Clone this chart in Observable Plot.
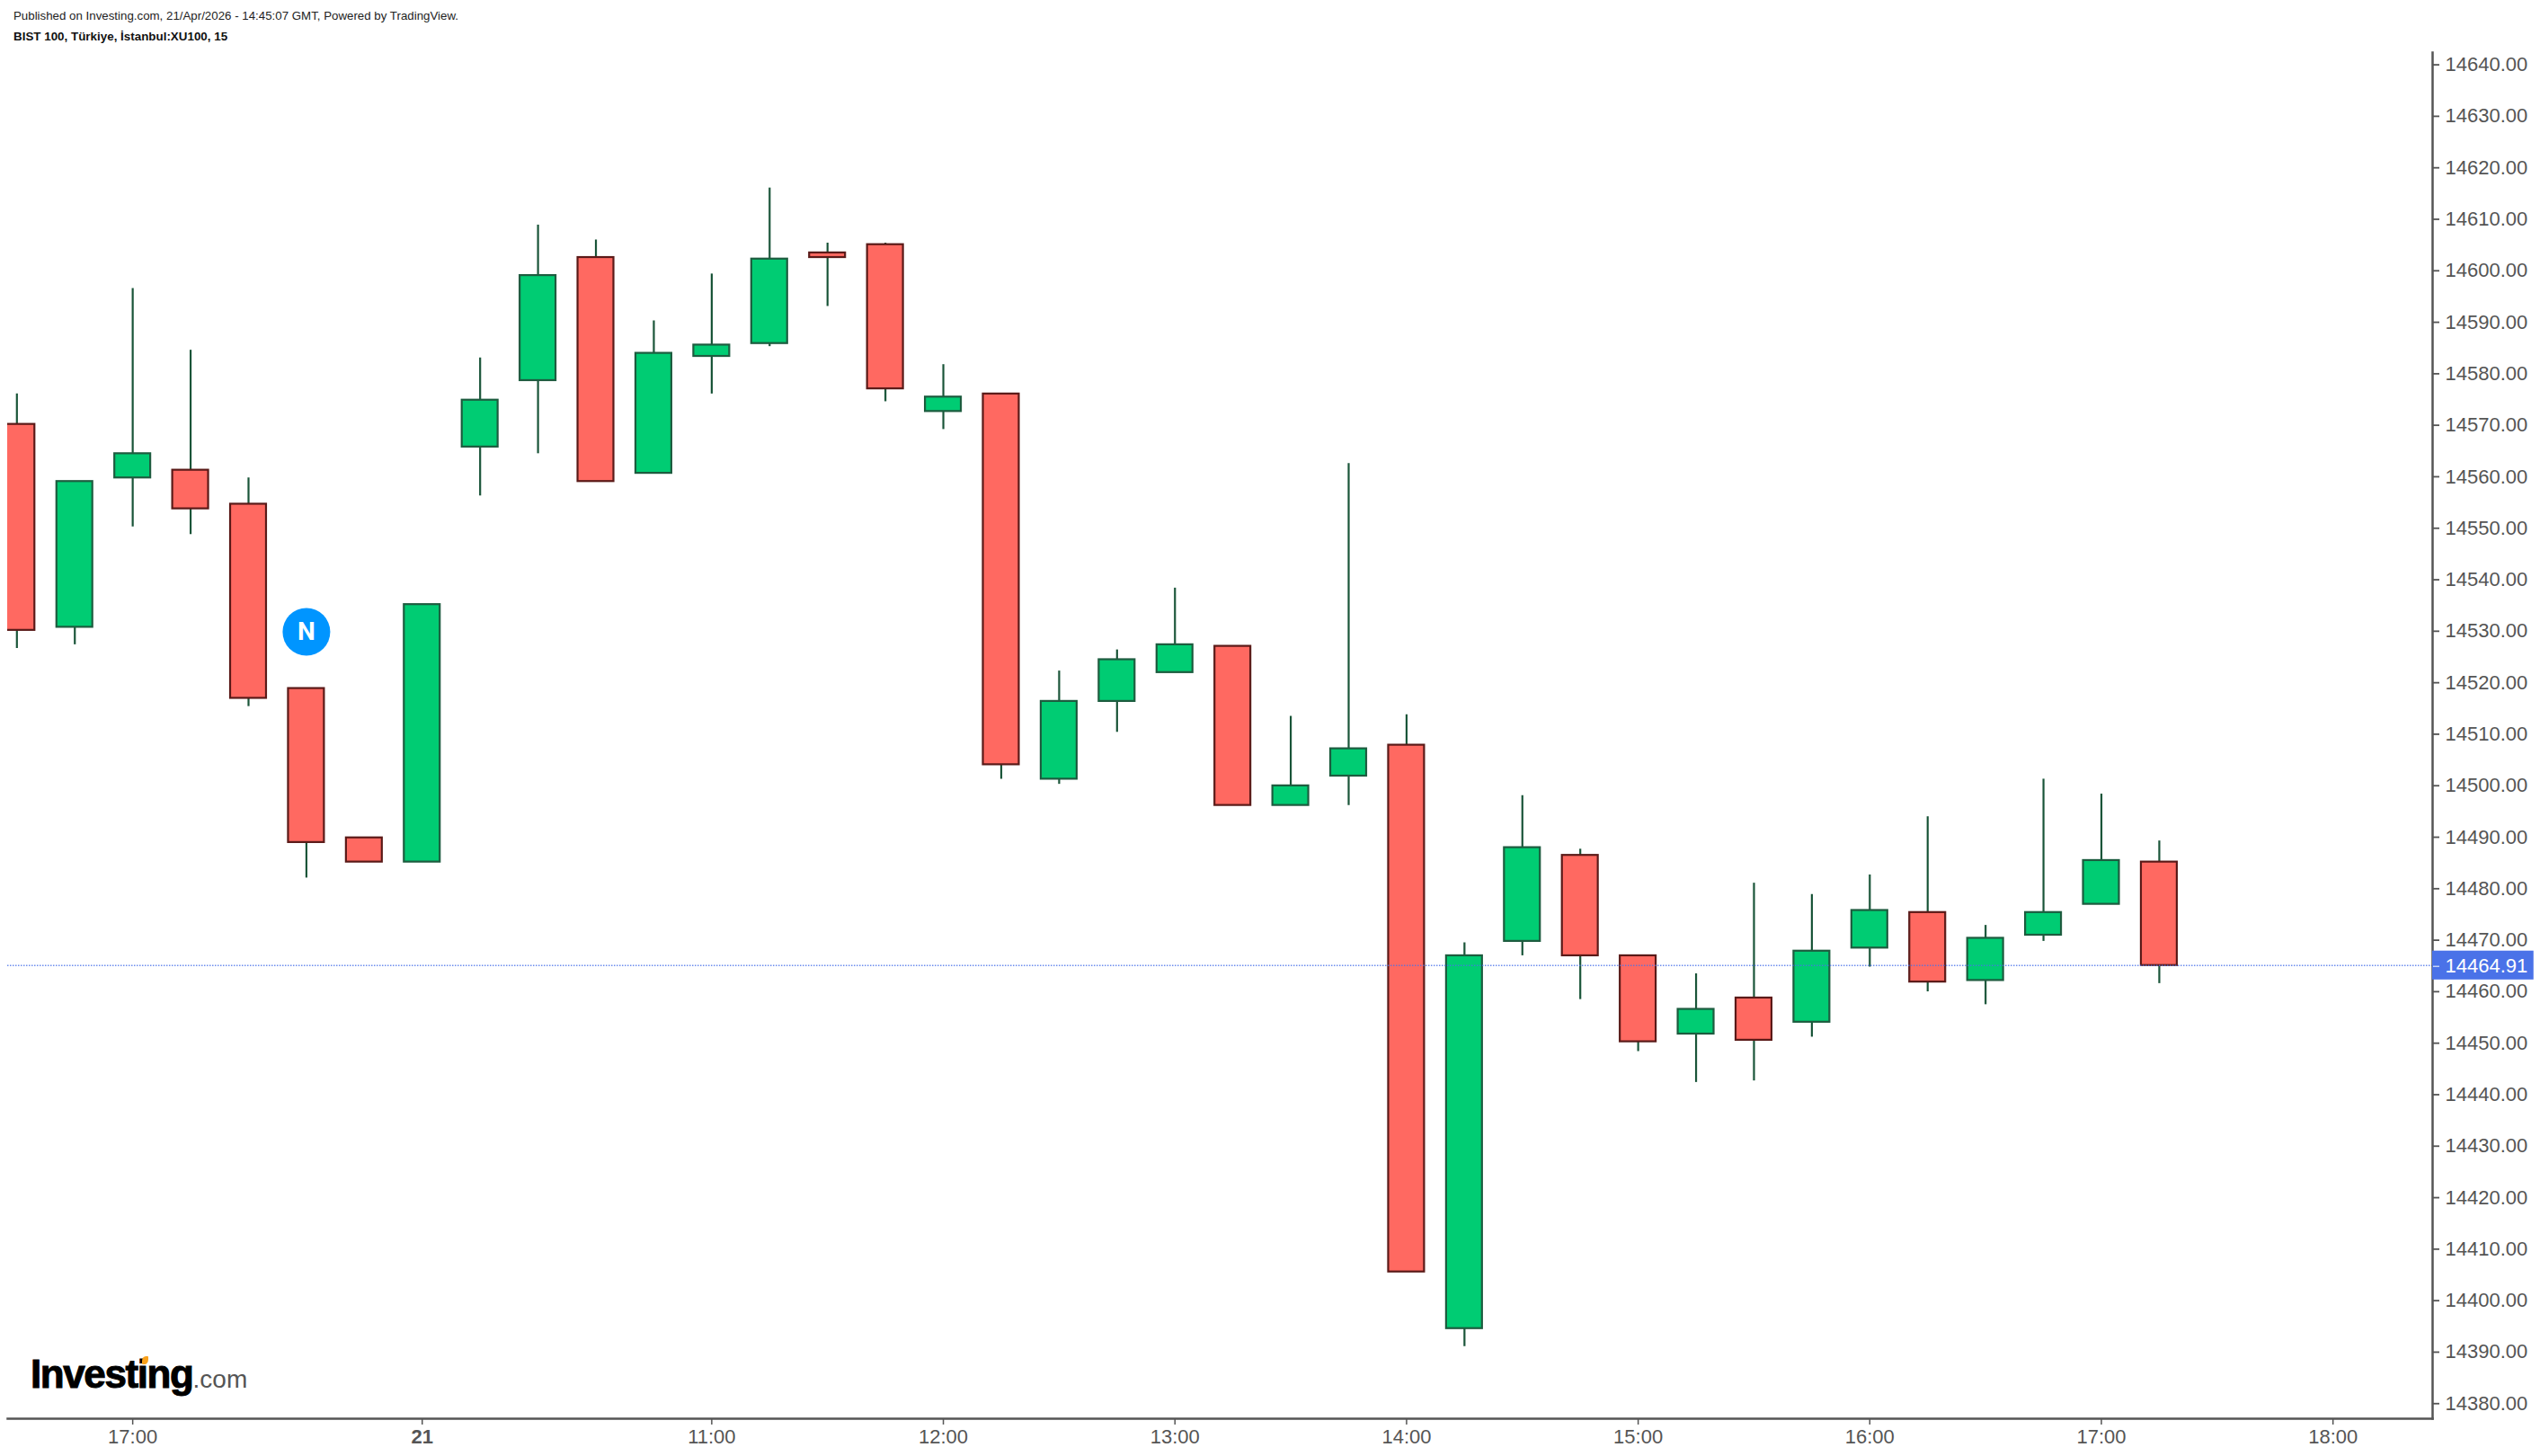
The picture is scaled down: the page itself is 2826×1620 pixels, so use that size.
<!DOCTYPE html>
<html>
<head>
<meta charset="utf-8">
<script src="https://cdn.jsdelivr.net/npm/d3@7"></script>
<script src="https://cdn.jsdelivr.net/npm/@observablehq/plot@0.6"></script>
<style>
html,body{margin:0;padding:0;background:#fff;overflow:hidden}
#wrap{position:relative;width:2826px;height:1620px}
#wrap svg{display:block;position:absolute;left:0;top:0}
.hd{position:absolute;left:15px;font-family:"Liberation Sans",Arial,sans-serif;color:#111;white-space:nowrap;z-index:2}
#pub{top:10px;font-size:13.3px;color:#222}
#sym{top:33px;font-size:13.4px;font-weight:bold}
#logo{position:absolute;left:34px;top:1498px;font-family:"Liberation Sans",Arial,sans-serif;white-space:nowrap;line-height:62px;z-index:2}
#logo b{font-size:44px;letter-spacing:-1.4px;color:#000;-webkit-text-stroke:1px #000}
#logo span{font-size:28px;color:#555;letter-spacing:0}
#logo i{position:absolute;left:124px;top:11px;width:7px;height:9px;background:#f9a11b;border-radius:60% 10% 60% 10%}
</style>
</head>
<body>
<div id="wrap">
<div class="hd" id="pub">Published on Investing.com, 21/Apr/2026 - 14:45:07 GMT, Powered by TradingView.</div>
<div class="hd" id="sym">BIST 100, Türkiye, İstanbul:XU100, 15</div>
<div id="logo"><b>Investing</b><span>.com</span><i></i></div>
</div>
<script>
const open_  = [14570.0,14530.6,14559.6,14561.1,14554.5,14518.7,14489.7,14485.0,14565.6,14578.5,14602.4,14560.5,14583.2,14585.7,14603.3,14604.9,14572.5,14575.9,14501.1,14516.2,14521.8,14526.9,14496.0,14501.7,14507.7,14394.4,14469.6,14486.3,14466.8,14451.6,14458.6,14453.9,14468.3,14475.2,14462.0,14470.8,14476.8,14485.0];
const close_ = [14530.0,14558.9,14564.3,14553.6,14516.8,14488.8,14485.0,14535.0,14574.7,14598.9,14558.9,14583.8,14585.4,14602.1,14602.4,14576.9,14575.3,14503.9,14516.2,14524.3,14527.2,14496.0,14499.8,14507.0,14405.4,14466.8,14487.8,14466.8,14450.1,14456.4,14450.4,14467.7,14475.6,14461.7,14470.2,14475.2,14485.3,14464.91];
const high_  = [14575.9,14558.9,14596.4,14584.4,14559.6,14518.7,14489.7,14535.0,14582.9,14608.7,14605.8,14590.1,14599.2,14615.9,14605.2,14605.2,14581.6,14575.9,14522.1,14526.2,14538.2,14526.9,14513.3,14562.4,14513.6,14469.3,14497.9,14487.5,14466.8,14463.3,14480.9,14478.7,14482.5,14493.8,14472.7,14501.1,14498.2,14489.1];
const low_   = [14526.5,14527.2,14550.1,14548.6,14515.2,14481.9,14485.0,14485.0,14556.1,14564.3,14558.9,14560.5,14575.9,14585.1,14592.9,14574.4,14569.0,14501.1,14500.1,14510.2,14521.8,14496.0,14496.0,14496.0,14405.4,14390.9,14466.8,14458.3,14448.2,14442.2,14442.5,14451.0,14464.6,14459.8,14457.3,14469.6,14476.8,14461.4];

const tickIdx    = [2,12,16,20,24,28,32,36,40];
const tickLabels = ["17:00","11:00","12:00","13:00","14:00","15:00","16:00","17:00","18:00"];
const dayIdx     = [7];
const dayLabels  = ["21"];
const priceTicks = d3.range(14380,14641,10);
const lastPrice  = 14464.91;
const newsMarker = [{i:5,v:14529.7,label:"N"}];

const bars = open_.map((o,i)=>({i,o,c:close_[i],h:high_[i],l:low_[i],up:close_[i]>=o}));

const FONT = '"Liberation Sans",Arial,sans-serif';
const INK = "#555";
const halfBody = 0.31;
const xLo = -0.16, xHi = 41.72, xTag = 43.47;

const chart = Plot.plot({
  width: 2826, height: 1620,
  marginTop: 58, marginBottom: 42, marginLeft: 8, marginRight: 120,
  style: {background:"#fff", fontFamily: FONT, fontSize:"22px"},
  x: {type:"linear", domain:[xLo,xHi]},
  y: {type:"linear", domain:[14376.9,14642.2]},
  marks: [
    Plot.ruleX(bars,{x:"i",y1:"l",y2:"h",stroke:"#1a5539",strokeWidth:2.2,clip:true}),
    Plot.rect(bars,{x1:d=>d.i-halfBody,x2:d=>d.i+halfBody,y1:"o",y2:"c",
      fill:d=>d.up?"#00cc73":"#ff6961",stroke:d=>d.up?"#1d5c3f":"#5a1a18",strokeWidth:2.2,clip:true}),
    Plot.ruleY([lastPrice],{stroke:"#4a72e8",strokeOpacity:0.8,strokeWidth:1.5,strokeDasharray:"1.5,1.5"}),
    Plot.dot(newsMarker,{x:"i",y:"v",r:26.5,fill:"#0095ff",stroke:"none"}),
    Plot.text(newsMarker,{x:"i",y:"v",text:"label",fill:"#fff",fontWeight:"bold",fontSize:28,fontFamily:"Roboto"}),
    Plot.frame({anchor:"bottom",stroke:INK,strokeWidth:2.5}),
    Plot.frame({anchor:"right",stroke:INK,strokeWidth:2.5}),
    Plot.axisY(priceTicks,{anchor:"right",label:null,tickSize:7,tickPadding:7,stroke:INK,fill:INK,strokeWidth:1.8,fontSize:22,
      textStroke:"none",dy:1,tickFormat:d3.format(".2f")}),
    Plot.axisX(tickIdx,{anchor:"bottom",label:null,tickSize:7,tickPadding:5,stroke:INK,fill:INK,strokeWidth:1.5,fontSize:22,
      tickFormat:d=>tickLabels[tickIdx.indexOf(d)]}),
    Plot.axisX(dayIdx,{anchor:"bottom",label:null,tickSize:7,tickPadding:5,stroke:INK,fill:INK,strokeWidth:1.5,fontSize:22,fontWeight:"bold",
      tickFormat:d=>dayLabels[dayIdx.indexOf(d)]}),
    Plot.rect([lastPrice],{x1:()=>xHi,x2:()=>xTag,y1:d=>d-2.8,y2:d=>d+2.8,fill:"#4a72e8"}),
    Plot.axisY([lastPrice],{anchor:"right",label:null,tickSize:7,tickPadding:7,stroke:"#c5d2f7",fill:"#fff",strokeWidth:1.5,fontSize:22,
      dy:1,tickFormat:d3.format(".2f")})
  ]
});
document.getElementById("wrap").prepend(chart);
</script>
</body>
</html>
